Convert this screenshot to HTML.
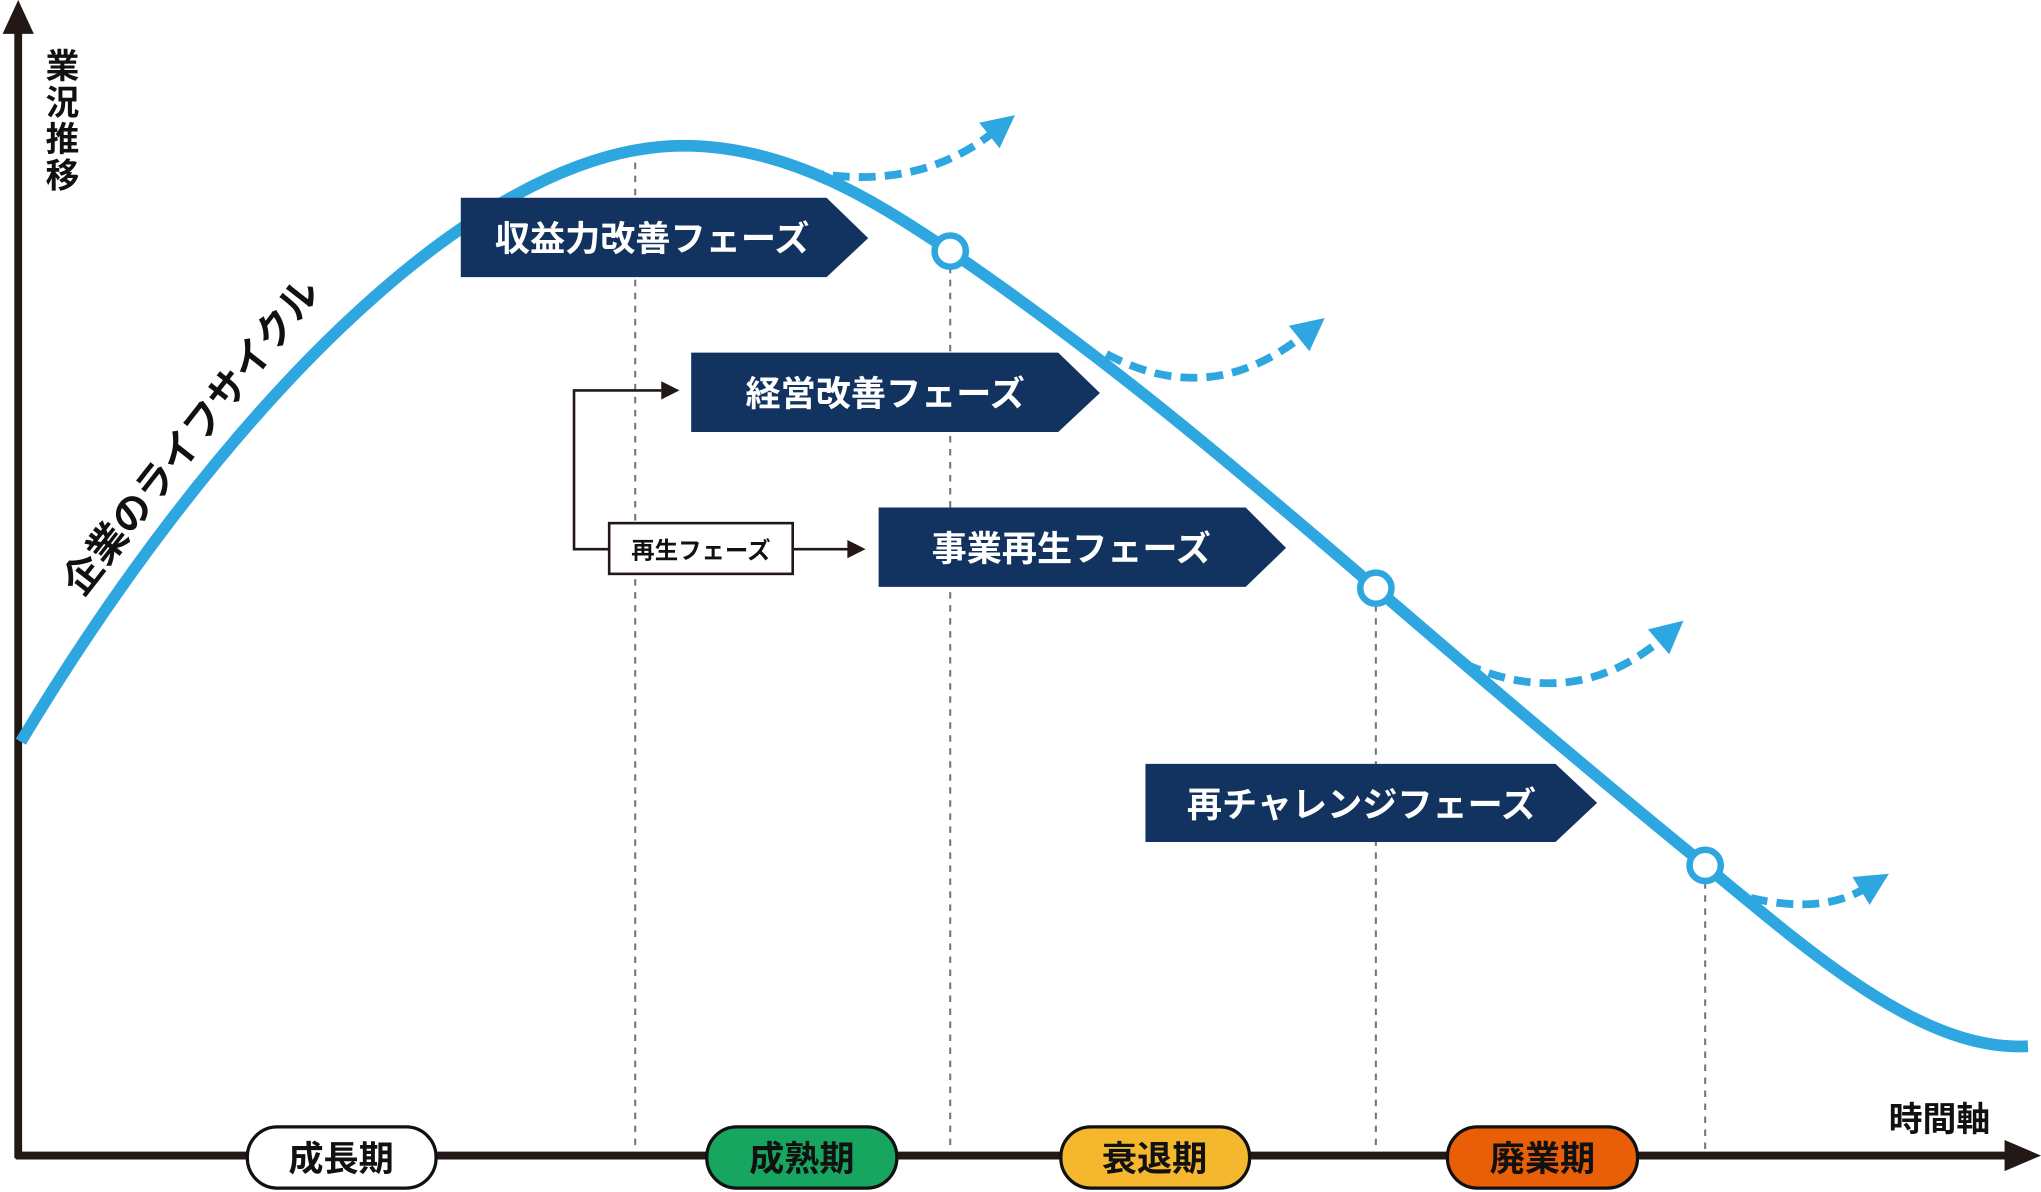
<!DOCTYPE html>
<html><head><meta charset="utf-8"><style>
html,body{margin:0;padding:0;background:#fff;}
svg{display:block;}
text{font-family:"Liberation Sans","Noto Sans CJK JP",sans-serif;font-weight:700;}
</style></head><body>
<svg width="2041" height="1192" viewBox="0 0 1568 916" preserveAspectRatio="none" xmlns="http://www.w3.org/2000/svg">
<defs>
<marker id="ba" viewBox="0 0 10 10" refX="2" refY="5" markerWidth="4.2" markerHeight="4.2" orient="auto"><path d="M0,0L10,5L0,10z" fill="#2ea7e0"/></marker>
</defs>
<g stroke="#777" stroke-width="1.6" stroke-dasharray="5,5">
<line x1="488" y1="115" x2="488" y2="885"/>
<line x1="730" y1="205" x2="730" y2="885"/>
<line x1="1057" y1="465" x2="1057" y2="885"/>
<line x1="1310" y1="678" x2="1310" y2="885"/>
</g>
<line x1="14" y1="20" x2="14" y2="890" stroke="#231815" stroke-width="6"/>
<path d="M2,26L14,0L26,26z" fill="#231815"/>
<line x1="12" y1="888" x2="1545" y2="888" stroke="#231815" stroke-width="6"/>
<path d="M1540,876L1568,888L1540,900z" fill="#231815"/>
<g font-size="26" fill="#111">
<text x="48" y="60" text-anchor="middle">業</text>
<text x="48" y="88" text-anchor="middle">況</text>
<text x="48" y="116" text-anchor="middle">推</text>
<text x="48" y="144" text-anchor="middle">移</text>
<text x="1490" y="869" text-anchor="middle">時間軸</text>
</g>
<path d="M16,570 C160,330 360,112 525,112 C610,112 680,160 730,193 C850,275 950,360 1057,452 C1150,532 1230,600 1310,665 C1400,740 1480,808 1558,804" fill="none" stroke="#2ea7e0" stroke-width="9"/>
<g fill="none" stroke="#2ea7e0" stroke-width="6" stroke-dasharray="13,7" marker-end="url(#ba)">
<path d="M620,132 Q705,148 764,101"/>
<path d="M850,272 Q930,315 1002,257"/>
<path d="M1125,510 Q1210,548 1278,490"/>
<path d="M1345,690 Q1400,703 1434,682"/>
</g>
<g fill="#fff" stroke="#2ea7e0" stroke-width="5">
<circle cx="730" cy="193" r="12"/>
<circle cx="1057" cy="452" r="12"/>
<circle cx="1310" cy="665" r="12"/>
</g>
<text x="0" y="0" font-size="30" fill="#111" text-anchor="middle" transform="translate(155,342) rotate(-52)">企業のライフサイクル</text>
<g fill="#12335f">
<path d="M354,152H635L667,183L635,213H354z"/>
<path d="M531,271H813L845,302L813,332H531z"/>
<path d="M675,390H957L988,421L957,451H675z"/>
<path d="M880,587H1195L1227,617L1195,647H880z"/>
</g>
<g font-size="27" fill="#fff" text-anchor="middle">
<text x="501" y="193">収益力改善フェーズ</text>
<text x="680" y="312">経営改善フェーズ</text>
<text x="823" y="431">事業再生フェーズ</text>
<text x="1046" y="628">再チャレンジフェーズ</text>
</g>
<path d="M468,422H441V300H508" fill="none" stroke="#231815" stroke-width="2"/>
<path d="M508,293L522,300L508,307z" fill="#231815"/>
<path d="M609,422H652" fill="none" stroke="#231815" stroke-width="2"/>
<path d="M651,415L665,422L651,429z" fill="#231815"/>
<rect x="468" y="402" width="141" height="39" fill="#fff" stroke="#231815" stroke-width="2"/>
<text x="538.5" y="429" font-size="18" fill="#111" text-anchor="middle">再生フェーズ</text>
<g stroke="#111" stroke-width="2.5">
<rect x="190" y="866" width="145" height="47" rx="23" fill="#fff"/>
<rect x="543" y="866" width="146" height="47" rx="23" fill="#16a65f"/>
<rect x="815" y="866" width="145" height="47" rx="23" fill="#f5b72e"/>
<rect x="1112" y="866" width="146" height="47" rx="23" fill="#e95f07"/>
</g>
<g font-size="27" fill="#111" text-anchor="middle">
<text x="262" y="900">成長期</text>
<text x="616" y="900">成熟期</text>
<text x="887" y="900">衰退期</text>
<text x="1185" y="900">廃業期</text>
</g>
</svg>
</body></html>
